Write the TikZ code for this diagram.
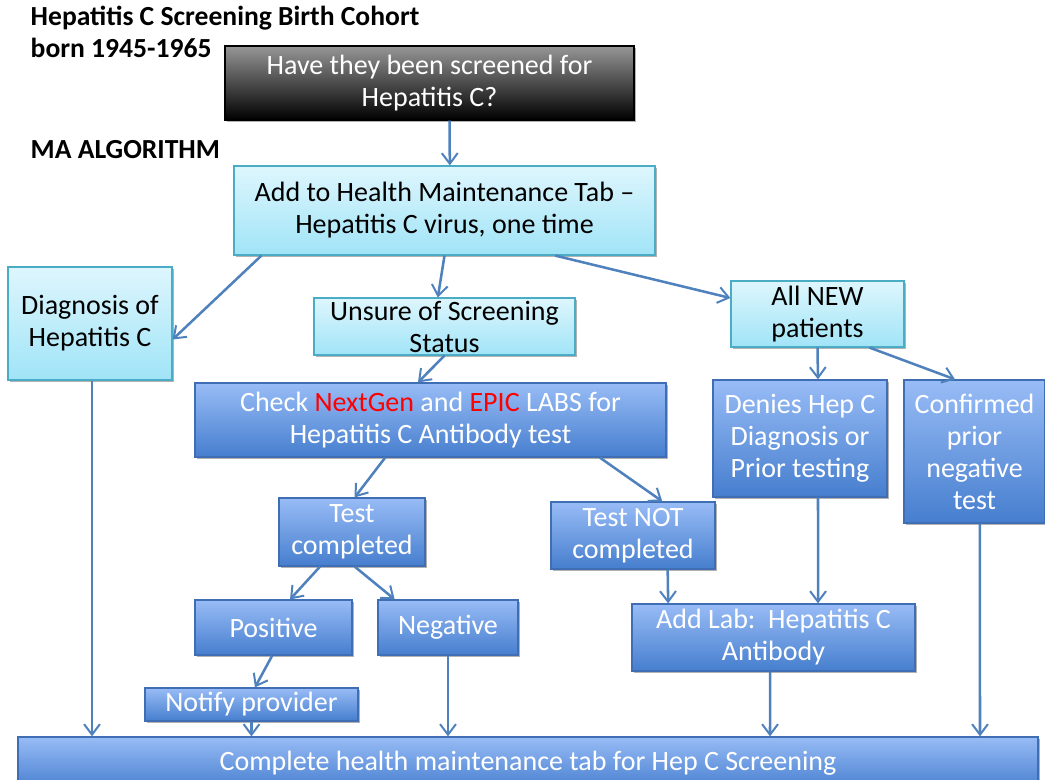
\documentclass[tikz,border=0pt]{standalone}
\usepackage{fontspec}
\setmainfont{Carlito}
\usetikzlibrary{arrows.meta,shadows,calc}
\usepackage{xcolor}
\definecolor{cyanTop}{RGB}{222,246,253}
\definecolor{cyanBot}{RGB}{160,228,247}
\definecolor{cyanLine}{RGB}{75,172,198}
\definecolor{blueTop}{RGB}{152,188,246}
\definecolor{blueBot}{RGB}{70,126,206}
\definecolor{blueLine}{RGB}{64,110,180}
\definecolor{darkTop}{RGB}{150,150,150}
\definecolor{arrowColor}{RGB}{79,129,189}
\definecolor{labRed}{RGB}{255,0,0}
\newcommand{\flowfont}{\fontsize{21}{24}\selectfont}
\newcommand{\headfont}{\fontsize{20.7}{23.5}\selectfont\bfseries}

\begin{document}
\begin{tikzpicture}[x=0.75pt, y=-0.75pt,
        shade/.style={drop shadow={shadow xshift=1.5pt, shadow yshift=-1.5pt, opacity=0.3, fill=black}},
        cyanbox/.style={draw=cyanLine, line width=0.9pt, top color=cyanTop, bottom color=cyanBot, shade, align=center, font=\flowfont, inner sep=1pt, text=black},
        bluebox/.style={draw=blueLine, line width=0.9pt, top color=blueTop, bottom color=blueBot, shade, align=center, font=\flowfont, inner sep=1pt, text=white},
        darkbox/.style={draw=black, line width=0.9pt, top color=darkTop, bottom color=black, shade, align=center, font=\flowfont, inner sep=1pt, text=white},
        heading/.style={anchor=west, align=left, font=\headfont},
        arr/.style={-{Straight Barb[length=2.8mm, width=4.2mm, line width=1.5pt]}, line width=1.9pt, arrowColor}
      ]
      \useasboundingbox (0,0) rectangle (1045,780);

      % headings
      \node[heading] (title) at (26,32) {Hepatitis C Screening Birth Cohort\\born 1945-1965};
      \node[heading] (algo) at (26,150) {MA ALGORITHM};

      % first rows
      \node[darkbox, minimum width=306.75pt, minimum height=55.5pt] (screen) at (429.5,83) {Have they been screened for\\Hepatitis C?};
      \node[cyanbox, minimum width=315.75pt, minimum height=66.75pt] (hm) at (444.5,210.5) {Add to Health Maintenance Tab --\\Hepatitis C virus, one time};
      \node[cyanbox, minimum width=123pt, minimum height=84.75pt] (diag) at (90,323.5) {Diagnosis of\\Hepatitis C};
      \node[cyanbox, minimum width=195.75pt, minimum height=42.75pt] (unsure) at (444.5,326.5) {Unsure of Screening\\Status};
      \node[cyanbox, minimum width=129.75pt, minimum height=49.5pt] (allnew) at (817.5,314) {All NEW\\patients};

      % lab checks
      \node[bluebox, minimum width=353.25pt, minimum height=55.5pt] (check) at (430.5,420) {Check \textcolor{labRed}{NextGen} and \textcolor{labRed}{EPIC} LABS for\\Hepatitis C Antibody test};
      \node[bluebox, minimum width=130.5pt, minimum height=87.75pt] (denies) at (800,438.5) {Denies Hep C\\Diagnosis or\\Prior testing};
      \node[bluebox, minimum width=105.75pt, minimum height=107.25pt] (confirmed) at (974.5,451.5) {Confirmed\\prior\\negative\\test};
      \node[bluebox, minimum width=109.5pt, minimum height=51pt] (testdone) at (352,532) {Test\\completed};
      \node[bluebox, minimum width=123pt, minimum height=50.25pt] (testnot) at (633,535.5) {Test NOT\\completed};
      \node[bluebox, minimum width=117.75pt, minimum height=41.25pt] (positive) at (273.5,627.5) {Positive};
      \node[bluebox, minimum width=105pt, minimum height=41.25pt] (negative) at (448,627.5) {Negative};
      \node[bluebox, minimum width=212.25pt, minimum height=50.25pt] (addlab) at (773.5,637.5) {Add Lab:\ \ Hepatitis C\\Antibody};
      \node[bluebox, minimum width=159.75pt, minimum height=24.75pt] (notify) at (251.5,704.5) {Notify provider};
      \node[bluebox, minimum width=765pt, minimum height=39.75pt] (complete) at (528,763.5) {Complete health maintenance tab for Hep C Screening};

      % connectors
      \draw[arr] ([xshift=15pt]screen.south) -- ([xshift=4pt]hm.north);
      \draw[arr] ([xshift=21pt]hm.south west) -- ([yshift=-12pt]diag.east);
      \draw[arr] (hm.south) -- ([xshift=-5pt]unsure.north);
      \draw[arr] ([xshift=83pt]hm.south) -- ([yshift=12pt]allnew.west);
      \draw[arr] (allnew.south) -- ([xshift=13.5pt]denies.north);
      \draw[arr] ([xshift=39pt]allnew.south) -- ([xshift=-14.6pt]confirmed.north);
      \draw[arr] (unsure.south) -- ([xshift=-9.4pt]check.north);
      \draw[arr] ([xshift=-34pt]check.south) -- ([xshift=2pt]testdone.north);
      \draw[arr] ([xshift=127pt]check.south) -- ([xshift=22pt]testnot.north);
      \draw[arr] ([xshift=-24pt]testdone.south) -- ([xshift=12.4pt]positive.north);
      \draw[arr] ([xshift=2pt]testdone.south) -- ([xshift=-40pt]negative.north);
      \draw[arr] ([xshift=-1pt]positive.south) -- ([xshift=2.6pt]notify.north);
      \draw[arr] (notify.south) -- ([xshift=-207.4pt]complete.north);
      \draw[arr] (negative.south) -- ([xshift=-60pt]complete.north);
      \draw[arr] ([xshift=26pt]testnot.south) -- ([xshift=-79pt]addlab.north);
      \draw[arr] ([xshift=13.5pt]denies.south) -- ([xshift=33.4pt]addlab.north);
      \draw[arr] ([xshift=-2.6pt]addlab.south) -- ([xshift=181.5pt]complete.north);
      \draw[arr] ([xshift=4pt]confirmed.south) -- ([xshift=339pt]complete.north);
      \draw[arr] ([xshift=1.5pt]diag.south) -- ([xshift=-327pt]complete.north);
    \end{tikzpicture}
\end{document}
